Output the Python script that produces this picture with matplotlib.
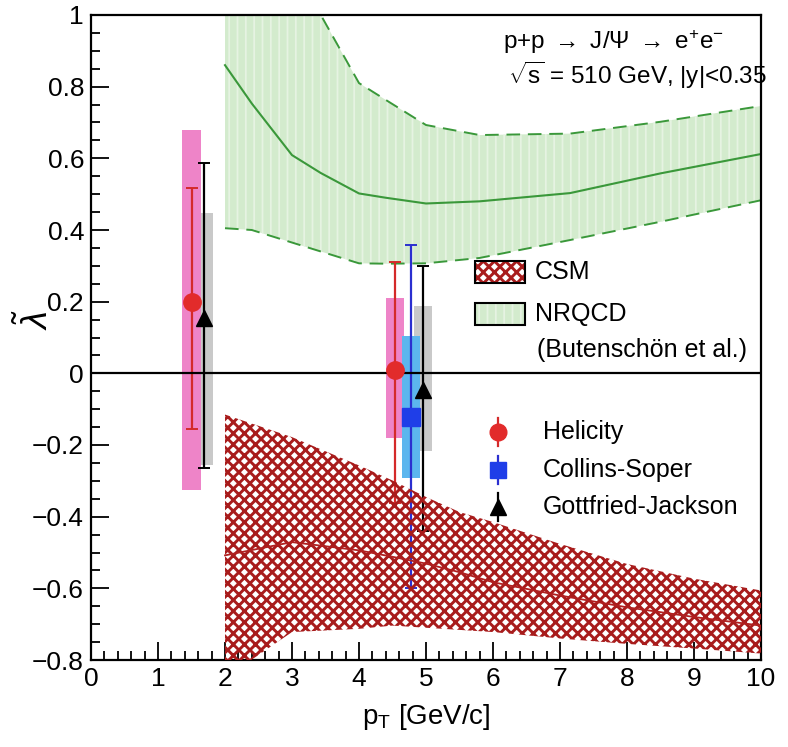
import matplotlib
matplotlib.use("Agg")
import matplotlib.pyplot as plt
from matplotlib.patches import Rectangle
from matplotlib.ticker import MultipleLocator, FuncFormatter

plt.rcParams['font.family'] = ['Liberation Sans', 'DejaVu Sans']
plt.rcParams['mathtext.fontset'] = 'custom'
plt.rcParams['mathtext.rm'] = 'Liberation Sans'
plt.rcParams['mathtext.it'] = 'Liberation Sans:italic'
plt.rcParams['mathtext.bf'] = 'Liberation Sans:bold'
plt.rcParams['hatch.linewidth'] = 2.0

# ---------------- data ----------------
# NRQCD band (Butenschoen et al.)
nrqcd_pt = [2.0, 2.4, 3.0, 3.43, 4.0, 4.4, 5.0, 5.8, 7.15, 8.5, 10.0]
nrqcd_hi = [1.50, 1.35, 1.15, 1.00, 0.810, 0.763, 0.693, 0.665, 0.669, 0.702, 0.746]
nrqcd_mid = [0.860, 0.753, 0.609, 0.559, 0.502, 0.490, 0.474, 0.480, 0.503, 0.558, 0.612]
nrqcd_lo = [0.405, 0.400, 0.365, 0.340, 0.307, 0.306, 0.307, 0.322, 0.372, 0.423, 0.483]

# CSM band
csm_pt = [2.0, 3.0, 4.0, 4.5, 5.0, 5.5, 6.0, 7.0, 8.0, 9.0, 10.0]
csm_hi = [-0.115, -0.178, -0.257, -0.299, -0.345, -0.387, -0.415, -0.476, -0.532, -0.573, -0.606]
csm_mid = [-0.508, -0.471, -0.494, -0.512, -0.531, -0.555, -0.583, -0.620, -0.653, -0.680, -0.704]
csm_lo = [-0.850, -0.722, -0.713, -0.704, -0.710, -0.716, -0.722, -0.740, -0.755, -0.768, -0.782]

# Data points: value, stat. bounds, syst. bounds
hel_pt = [1.50, 4.54]
hel_val = [0.200, 0.010]
hel_stat_lo = [-0.155, -0.363]
hel_stat_hi = [0.516, 0.310]
hel_sys_lo = [-0.325, -0.180]
hel_sys_hi = [0.680, 0.210]

cs_pt = [4.77]
cs_val = [-0.123]
cs_stat_lo = [-0.598]
cs_stat_hi = [0.358]
cs_sys_lo = [-0.293]
cs_sys_hi = [0.103]

gj_pt = [1.69, 4.95]
gj_val = [0.154, -0.047]
gj_stat_lo = [-0.265, -0.440]
gj_stat_hi = [0.587, 0.300]
gj_sys_lo = [-0.257, -0.218]
gj_sys_hi = [0.447, 0.187]

x_ticks = [0, 1, 2, 3, 4, 5, 6, 7, 8, 9, 10]
y_ticks = [-0.8, -0.6, -0.4, -0.2, 0, 0.2, 0.4, 0.6, 0.8, 1.0]

# ---------------- figure ----------------
fig = plt.figure(figsize=(7.88, 7.47), dpi=100)
ax = fig.add_axes([91 / 788, 87 / 747, 670 / 788, 645 / 747])
ax.set_xlim(0, 10)
ax.set_ylim(-0.8, 1.0)

NR_FACE, NR_HATCH, NR_LINE = '#d3ebcd', '#e6f3e2', '#3a983a'
CSM_RED = '#a81c1c'


def hatch_lw(artist, lw):
    if hasattr(artist, 'set_hatch_linewidth'):
        artist.set_hatch_linewidth(lw)


# NRQCD band
nr = ax.fill_between(nrqcd_pt, nrqcd_lo, nrqcd_hi, facecolor=NR_FACE,
                     edgecolor=NR_HATCH, hatch='||', linewidth=0, zorder=1)
hatch_lw(nr, 1.3)
ax.plot(nrqcd_pt, nrqcd_hi, color=NR_LINE, lw=1.4, ls=(0, (7, 4)), zorder=2)
ax.plot(nrqcd_pt, nrqcd_lo, color=NR_LINE, lw=1.4, ls=(0, (7, 4)), zorder=2)
ax.plot(nrqcd_pt, nrqcd_mid, color=NR_LINE, lw=1.5, zorder=2)

# syst boxes
hw = 0.135
def sysbox(x, lo, hi, color, z):
    ax.add_patch(Rectangle((x - hw, lo), 2 * hw, hi - lo, facecolor=color,
                           edgecolor='none', zorder=z))

for x, lo, hi in zip(gj_pt, gj_sys_lo, gj_sys_hi):
    sysbox(x, lo, hi, '#c9c9c9', 3)
for x, lo, hi in zip(hel_pt, hel_sys_lo, hel_sys_hi):
    sysbox(x, lo, hi, '#ee84c8', 3.1)
for x, lo, hi in zip(cs_pt, cs_sys_lo, cs_sys_hi):
    sysbox(x, lo, hi, '#5cb6ee', 3.2)

# stat error bars
def statbar(xs, vals, lo, hi, color):
    yerr = [[v - l for v, l in zip(vals, lo)], [h - v for v, h in zip(vals, hi)]]
    ax.errorbar(xs, vals, yerr=yerr, fmt='none', ecolor=color, elinewidth=1.6,
                capsize=4, capthick=1.4, zorder=4)

statbar(hel_pt, hel_val, hel_stat_lo, hel_stat_hi, '#d42a2a')
statbar(cs_pt, cs_val, cs_stat_lo, cs_stat_hi, '#2b2fd0')
statbar(gj_pt, gj_val, gj_stat_lo, gj_stat_hi, '#000000')

# CSM band (hatch over error bars)
cs_band = ax.fill_between(csm_pt, csm_lo, csm_hi, facecolor='none',
                          edgecolor=CSM_RED, hatch='xxx', linewidth=0, zorder=5)
hatch_lw(cs_band, 2.1)
ax.plot(csm_pt, csm_mid, color='#b02020', lw=1.3, zorder=5)

# markers
ax.plot(hel_pt, hel_val, 'o', color='#e22b2b', ms=12.5, zorder=6)
ax.plot(cs_pt, cs_val, 's', color='#1f3ee8', ms=13, zorder=6)
ax.plot(gj_pt, gj_val, '^', color='black', ms=12, zorder=6)

# zero line
ax.axhline(0, color='black', lw=1.6, zorder=4.5)

# ---------------- axes styling ----------------
for s in ax.spines.values():
    s.set_linewidth(1.6)
ax.set_xticks(x_ticks)
ax.set_yticks(y_ticks)
ax.xaxis.set_minor_locator(MultipleLocator(0.2))
ax.yaxis.set_minor_locator(MultipleLocator(0.05))
fmt = FuncFormatter(lambda v, p: ('%g' % round(v, 2)).replace('-', '\u2212'))
ax.yaxis.set_major_formatter(fmt)
ax.tick_params(which='both', direction='in', top=False, right=False, width=1.3)
ax.tick_params(which='major', length=13, labelsize=19)
ax.tick_params(which='minor', length=6.5)
ax.tick_params(axis='x', pad=5)
ax.tick_params(axis='y', pad=5)

ax.set_xlabel('p$_{\\mathrm{T}}$ [GeV/c]', fontsize=20, labelpad=8)
ax.set_ylabel('$\\tilde{\\lambda}$', fontsize=26)
ax.yaxis.set_label_coords(-0.052, 0.527)

# ---------------- annotation text ----------------
ax.text(0.615, 0.958, 'p+p $\\rightarrow$ J/\u03a8 $\\rightarrow$ e$^{+}$e$^{-}$',
        transform=ax.transAxes, fontsize=17.5, va='center', ha='left', zorder=7)
ax.text(0.622, 0.907, '$\\sqrt{\\mathrm{s}}$ = 510 GeV, |y|<0.35',
        transform=ax.transAxes, fontsize=17.5, va='center', ha='left', zorder=7)

# band legend
sw_x, sw_w, sw_h = 0.573, 0.075, 0.033
p1 = ax.add_patch(Rectangle((sw_x, 0.6016 - sw_h / 2), sw_w, sw_h, transform=ax.transAxes,
                            facecolor='white', edgecolor=CSM_RED, hatch='xxx', lw=0, zorder=7))
hatch_lw(p1, 2.1)
ax.add_patch(Rectangle((sw_x, 0.6016 - sw_h / 2), sw_w, sw_h, transform=ax.transAxes,
                       facecolor='none', edgecolor='black', lw=1.5, zorder=7.1))
p2 = ax.add_patch(Rectangle((sw_x, 0.5364 - sw_h / 2), sw_w, sw_h, transform=ax.transAxes,
                            facecolor=NR_FACE, edgecolor=NR_HATCH, hatch='||', lw=0, zorder=7))
hatch_lw(p2, 1.3)
ax.add_patch(Rectangle((sw_x, 0.5364 - sw_h / 2), sw_w, sw_h, transform=ax.transAxes,
                       facecolor='none', edgecolor='black', lw=1.5, zorder=7.1))
ax.text(0.663, 0.6016, 'CSM', transform=ax.transAxes, fontsize=18, va='center', zorder=7)
ax.text(0.663, 0.5364, 'NRQCD', transform=ax.transAxes, fontsize=18, va='center', zorder=7)
ax.text(0.666, 0.4806, '(Butensch\u00f6n et al.)', transform=ax.transAxes, fontsize=18,
        va='center', zorder=7)

# marker legend
lx = 0.6075
entries = [(0.3535, 'o', '#e22b2b', '#d42a2a', 12, 'Helicity'),
           (0.2946, 's', '#1f3ee8', '#2b2fd0', 12, 'Collins-Soper'),
           (0.2372, '^', 'black', 'black', 11, 'Gottfried-Jackson')]
for ly, mk, mc, lc, ms, lab in entries:
    ax.plot([lx, lx], [ly - 0.022, ly + 0.022], color=lc, lw=1.6,
            transform=ax.transAxes, zorder=7)
    ax.plot([lx], [ly], mk, color=mc, ms=ms, transform=ax.transAxes, zorder=7.1)
    ax.text(0.6746, ly, lab, transform=ax.transAxes, fontsize=18, va='center', zorder=7)

fig.savefig('out.png', dpi=100)
